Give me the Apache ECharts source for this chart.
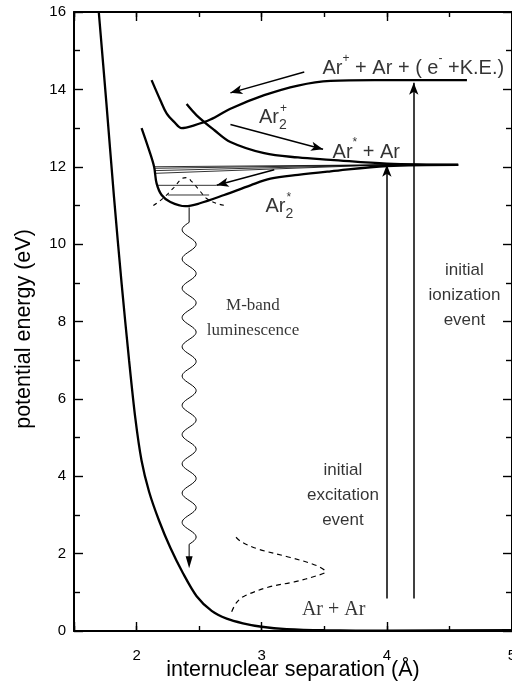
<!DOCTYPE html>
<html>
<head>
<meta charset="utf-8">
<script src="https://cdn.jsdelivr.net/npm/echarts@6/dist/echarts.min.js"></script>
<style>
  html, body { margin: 0; padding: 0; background: #fff; }
  #chart { width: 512px; height: 685px; }
</style>
</head>
<body>
<div id="chart"></div>
<script>
// ---- Potential energy curves [separation (Å), energy (eV)] ----
const groundState = [[1.698,16],[1.76,13.6],[1.82,11.2],[1.88,9.0],[1.94,7.0],[1.99,5.5],[2.04,4.4],[2.10,3.6],
  [2.18,2.85],[2.27,2.15],[2.37,1.5],[2.48,0.9],[2.60,0.52],[2.72,0.32],[2.85,0.2],[3.0,0.11],[3.2,0.05],
  [3.5,0.02],[4.0,0.01],[5.0,0.02]];
const ionBound = [[2.12,14.24],[2.19,13.72],[2.24,13.38],[2.30,13.16],[2.36,13.0],[2.46,13.07],[2.59,13.22],
  [2.75,13.5],[3.02,13.85],[3.29,14.1],[3.55,14.22],[3.9,14.24],[4.64,14.24]];
const ionRepulsive = [[2.40,13.62],[2.48,13.33],[2.62,12.95],[2.75,12.64],[3.02,12.35],[3.29,12.24],[3.55,12.18],
  [4.0,12.08],[4.57,12.05]];
const excimer = [[2.04,13.0],[2.10,12.43],[2.14,12.0],[2.16,11.57],[2.20,11.27],[2.27,11.09],[2.39,10.98],
  [2.50,11.05],[2.70,11.27],[2.91,11.52],[3.07,11.69],[3.29,11.79],[3.55,11.88],[4.0,12.02],[4.57,12.05]];

// vibrational levels of the excimer well, fanning into the Ar* + Ar limit
const vibLevelStarts = [[2.14,12.0],[2.14,11.96],[2.145,11.90],[2.15,11.83]];
const dissociationLimit = [4.0,12.05];
const lowLevels = [[[2.165,11.52],[2.64,11.52]], [[2.25,11.27],[2.58,11.27]]];

// vibrational wavefunctions (dashed)
const excimerWavefn = [[2.134,11.0],[2.18,11.1],[2.23,11.24],[2.30,11.47],[2.36,11.69],[2.40,11.72],[2.44,11.62],
  [2.50,11.40],[2.56,11.18],[2.64,11.05],[2.73,10.99]];
const groundWavefn = [[2.76,0.50],[2.80,0.74],[2.86,0.90],[3.05,1.13],[3.26,1.27],[3.44,1.43],[3.51,1.53],
  [3.44,1.69],[3.23,1.90],[2.97,2.12],[2.84,2.30],[2.79,2.44]];

// arrows [from, to]
const captureArrow = [[3.34,14.45],[2.75,13.91]];
const dissociateArrow = [[2.75,13.09],[3.49,12.45]];
const relaxArrow = [[3.1,11.92],[2.64,11.52]];
const excitationArrow = [[4.0,0.84],[4.0,12.05]];
const ionizationArrow = [[4.215,0.84],[4.215,14.17]];
const luminescence = [2.42,10.95,2.42,1.62];

// annotation texts and their anchors
const annotationText = [
  '{a|Ar}{sp|+}{a| + Ar + ( e}{sp|-}{a| +K.E.)}',
  '{a|Ar}{sb|2}{sp|+}',
  '{a|Ar}{sp|*}{a| + Ar}',
  '{a|Ar}{sb|2}{sp|*}',
  'M-band\nluminescence',
  'initial\nexcitation\nevent',
  'initial\nionization\nevent',
  'Ar + Ar'
];
const annotationAt = [[3.486,14.55],[2.978,13.28],[3.566,12.38],[3.03,10.97],[2.93,8.10],[3.649,3.52],[4.62,8.68],[3.575,0.55]];

// axis ranges
const xRange = [1.5, 5];
const yRange = [0, 16];
const yStep = 2;

const SANS = '"Liberation Sans", Arial, Helvetica, sans-serif';
const SERIF = '"Liberation Serif", "Times New Roman", serif';
const INK = '#000';

function xAxisDef(pos, major) {
  return {
    type: 'value', position: pos, min: xRange[0], max: xRange[1],
    splitNumber: major ? 3 : undefined, interval: major ? undefined : 0.5,
    axisLine: { show: major, onZero: false, lineStyle: { color: INK, width: 2 } },
    axisTick: { show: true, inside: true, length: major ? 9 : 5, lineStyle: { color: INK, width: 1.4 } },
    axisLabel: {
      show: major && pos === 'bottom', color: INK, fontSize: 15, fontFamily: SANS, margin: 17,
      formatter: v => (Math.abs(v - Math.round(v)) < 1e-9 ? String(Math.round(v)) : '')
    },
    splitLine: { show: false },
    name: major && pos === 'bottom' ? 'internuclear separation (Å)' : '',
    nameLocation: 'middle', nameGap: 28, nameMoveOverlap: false,
    nameTextStyle: { color: INK, fontSize: 21.5, fontFamily: SANS }
  };
}
function yAxisDef(pos) {
  const left = pos === 'left';
  return {
    type: 'value', position: pos, min: yRange[0], max: yRange[1], interval: yStep,
    axisLine: { show: true, onZero: false, lineStyle: { color: INK, width: 2 } },
    axisTick: { show: true, inside: true, length: 9, lineStyle: { color: INK, width: 1.4 } },
    minorTick: { show: true, splitNumber: 2, length: 6, lineStyle: { color: INK, width: 1.4 } },
    axisLabel: { show: left, color: INK, fontSize: 15, fontFamily: SANS, margin: 8 },
    splitLine: { show: false },
    name: left ? 'potential energy (eV)' : '',
    nameLocation: 'middle', nameGap: 39, nameMoveOverlap: false,
    nameTextStyle: { color: INK, fontSize: 21.5, fontFamily: SANS, padding: [0, 15, 0, 0] }
  };
}

function curve(data, width, extra) {
  return Object.assign({
    type: 'line', data: data, smooth: 0.35, showSymbol: false, symbol: 'none', silent: true,
    lineStyle: { color: INK, width: width }, z: 3
  }, extra || {});
}

function arrowPair(pair, bend) {
  return [{ coord: pair[0], lineStyle: { curveness: bend } }, { coord: pair[1] }];
}

function renderLuminescence(params, api) {
  const p0 = api.coord([api.value(0), api.value(1)]);
  const p1 = api.coord([api.value(2), api.value(3)]);
  const lead = 15, tail = 24, amp = 7;
  const y0 = p0[1] + lead, y1 = p1[1] - tail;
  const n = Math.max(1, Math.round((y1 - y0) / 28.3));
  const per = (y1 - y0) / n;
  const pts = [[p0[0], p0[1]], [p0[0], y0]];
  const steps = n * 24;
  for (let i = 1; i <= steps; i++) {
    const t = i / 24;
    pts.push([p0[0] - amp * Math.sin(2 * Math.PI * t), y0 + t * per]);
  }
  pts.push([p1[0], p1[1] - 10]);
  return {
    type: 'group',
    children: [
      { type: 'polyline', shape: { points: pts }, style: { stroke: INK, lineWidth: 1, fill: null } },
      { type: 'polygon', shape: { points: [[p1[0] - 3.5, p1[1] - 12], [p1[0] + 3.5, p1[1] - 12], [p1[0], p1[1]]] },
        style: { fill: INK } }
    ]
  };
}

const formulaRich = {
  a: { fontSize: 20, fontFamily: SANS, color: INK, lineHeight: 30, verticalAlign: 'middle' },
  sp: { fontSize: 12, fontFamily: SANS, color: INK, lineHeight: 30, verticalAlign: 'top' },
  sb: { fontSize: 14, fontFamily: SANS, color: INK, lineHeight: 30, verticalAlign: 'bottom', width: 1 }
};

function annotationLabel(i) {
  const base = { show: true, position: [0, 0], color: INK };
  if (i <= 3) return Object.assign(base, { align: 'left', verticalAlign: 'middle', rich: formulaRich });
  if (i === 4) return Object.assign(base, { align: 'center', verticalAlign: 'middle', fontFamily: SERIF, fontSize: 17, lineHeight: 25 });
  if (i === 7) return Object.assign(base, { align: 'center', verticalAlign: 'middle', fontFamily: SERIF, fontSize: 20 });
  return Object.assign(base, { align: 'center', verticalAlign: 'middle', fontFamily: SANS, fontSize: 17, lineHeight: 25 });
}

const series = [
  curve(groundState, 2.3, { smooth: 0.3 }),
  curve(ionBound, 2.3),
  curve(ionRepulsive, 2.3),
  curve(excimer, 2.3),
  curve([[4.0, 12.05], [4.57, 12.05]], 2.3, { smooth: false }),
  curve(excimerWavefn, 1.1, { lineStyle: { color: INK, width: 1.1, type: [4, 4] } }),
  curve(groundWavefn, 1.2, { lineStyle: { color: INK, width: 1.2, type: [5, 4] } })
];
vibLevelStarts.forEach(s => series.push(curve([s, dissociationLimit], 0.8, { smooth: false, z: 2 })));
lowLevels.forEach(l => series.push(curve(l, 0.8, { smooth: false, z: 2 })));

series.push({
  type: 'line', data: [], silent: true,
  markLine: {
    silent: true, animation: false, symbol: ['none', 'arrow'], symbolSize: [7, 12],
    label: { show: false },
    lineStyle: { color: INK, width: 1.5, type: 'solid' },
    emphasis: { disabled: true },
    data: [
      arrowPair(captureArrow, -0.15),
      arrowPair(dissociateArrow, -0.12),
      arrowPair(relaxArrow, -0.09),
      arrowPair(excitationArrow, 0),
      arrowPair(ionizationArrow, 0)
    ]
  }
});

series.push({
  type: 'custom', renderItem: renderLuminescence, silent: true,
  encode: { x: [0, 2], y: [1, 3] },
  data: [luminescence], z: 4
});

series.push({
  type: 'scatter', symbolSize: 0, silent: true, z: 5,
  data: annotationText.map((t, i) => ({
    value: annotationAt[i],
    label: Object.assign(annotationLabel(i), { formatter: t })
  }))
});

const chart = echarts.init(document.getElementById('chart'), null, { renderer: 'canvas' });
chart.setOption({
  animation: false,
  backgroundColor: '#fff',
  grid: { left: 74, right: 0, top: 12, bottom: 54, containLabel: false, outerBoundsMode: 'none' },
  xAxis: [xAxisDef('bottom', true), xAxisDef('bottom', false), xAxisDef('top', true), xAxisDef('top', false)],
  yAxis: [yAxisDef('left'), yAxisDef('right')],
  series: series
});
</script>
</body>
</html>
